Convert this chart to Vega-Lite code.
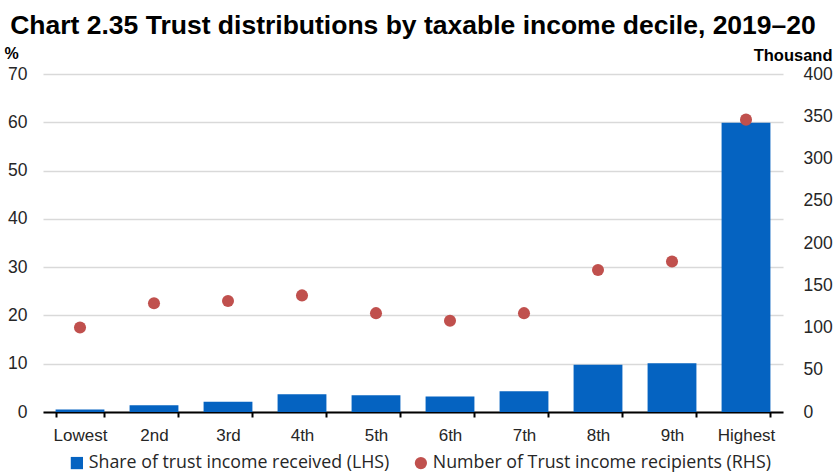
{
  "$schema": "https://vega.github.io/schema/vega-lite/v6.json",
  "width": 740,
  "height": 338,
  "autosize": {"type": "none"},
  "padding": {"left": 43, "top": 74, "right": 52, "bottom": 62},
  "background": "white",
  "title": {
    "text": "Chart 2.35 Trust distributions by taxable income decile, 2019–20",
    "font": "Liberation Sans",
    "fontSize": 26.5,
    "fontWeight": "bold",
    "color": "black",
    "anchor": "middle",
    "offset": 6
  },
  "data": {
    "values": [
      {"decile": "Lowest", "series": "Share of trust income received (LHS)", "value": 0.5},
      {"decile": "2nd", "series": "Share of trust income received (LHS)", "value": 1.4},
      {"decile": "3rd", "series": "Share of trust income received (LHS)", "value": 2.1},
      {"decile": "4th", "series": "Share of trust income received (LHS)", "value": 3.7},
      {"decile": "5th", "series": "Share of trust income received (LHS)", "value": 3.45},
      {"decile": "6th", "series": "Share of trust income received (LHS)", "value": 3.2},
      {"decile": "7th", "series": "Share of trust income received (LHS)", "value": 4.3},
      {"decile": "8th", "series": "Share of trust income received (LHS)", "value": 9.8},
      {"decile": "9th", "series": "Share of trust income received (LHS)", "value": 10.1},
      {"decile": "Highest", "series": "Share of trust income received (LHS)", "value": 59.9},
      {"decile": "Lowest", "series": "Number of Trust income recipients (RHS)", "value": 100},
      {"decile": "2nd", "series": "Number of Trust income recipients (RHS)", "value": 128.6},
      {"decile": "3rd", "series": "Number of Trust income recipients (RHS)", "value": 131.4},
      {"decile": "4th", "series": "Number of Trust income recipients (RHS)", "value": 138},
      {"decile": "5th", "series": "Number of Trust income recipients (RHS)", "value": 117},
      {"decile": "6th", "series": "Number of Trust income recipients (RHS)", "value": 108},
      {"decile": "7th", "series": "Number of Trust income recipients (RHS)", "value": 117},
      {"decile": "8th", "series": "Number of Trust income recipients (RHS)", "value": 168},
      {"decile": "9th", "series": "Number of Trust income recipients (RHS)", "value": 178},
      {"decile": "Highest", "series": "Number of Trust income recipients (RHS)", "value": 346}
    ]
  },
  "encoding": {
    "x": {
      "field": "decile",
      "type": "nominal",
      "sort": ["Lowest", "2nd", "3rd", "4th", "5th", "6th", "7th", "8th", "9th", "Highest"],
      "scale": {"paddingInner": 0.34, "paddingOuter": 0.17},
      "axis": {
        "title": null,
        "labelAngle": 0,
        "labelFont": "Liberation Sans",
        "labelFontSize": 17,
        "labelColor": "#262626",
        "labelPadding": 10,
        "domainColor": "black",
        "domainWidth": 2,
        "ticks": true,
        "tickBand": "extent",
        "tickColor": "black",
        "tickWidth": 2,
        "tickSize": 5,
        "grid": false
      }
    }
  },
  "layer": [
    {
      "transform": [{"filter": "datum.series === 'Share of trust income received (LHS)'"}],
      "mark": {"type": "bar", "color": "#0563C1"},
      "encoding": {
        "y": {
          "field": "value",
          "type": "quantitative",
          "scale": {"domain": [0, 70], "nice": false},
          "axis": {
            "title": "%",
            "titleAngle": 0,
            "titleFont": "Liberation Sans",
            "titleFontSize": 16,
            "titleFontWeight": "bold",
            "titleColor": "black",
            "titleAlign": "left",
            "titleBaseline": "alphabetic",
            "titleX": -39,
            "titleY": -16,
            "values": [0, 10, 20, 30, 40, 50, 60, 70],
            "labelFont": "Liberation Sans",
            "labelFontSize": 17.5,
            "labelColor": "#262626",
            "labelPadding": 16,
            "domain": false,
            "ticks": false,
            "grid": true,
            "gridColor": "#d9d9d9",
            "gridWidth": 1.5
          }
        },
        "color": {
          "field": "series",
          "type": "nominal",
          "scale": {
            "domain": ["Share of trust income received (LHS)", "Number of Trust income recipients (RHS)"],
            "range": ["#0563C1", "#C0504D"]
          },
          "legend": {
            "title": null,
            "orient": "none",
            "legendX": 25,
            "legendY": 380,
            "direction": "horizontal",
            "labelFont": "Open Sans",
            "labelFontSize": 17.8,
            "labelColor": "#262626",
            "symbolSize": 150,
            "columnPadding": 22,
            "labelOffset": 3,
            "labelLimit": 400
          }
        }
      }
    },
    {
      "transform": [{"filter": "datum.series === 'Number of Trust income recipients (RHS)'"}],
      "mark": {"type": "point", "filled": true, "opacity": 1, "size": 145},
      "encoding": {
        "y": {
          "field": "value",
          "type": "quantitative",
          "scale": {"domain": [0, 400], "nice": false},
          "axis": {
            "orient": "right",
            "title": "Thousand",
            "titleAngle": 0,
            "titleFont": "Liberation Sans",
            "titleFontSize": 16.5,
            "titleFontWeight": "bold",
            "titleColor": "black",
            "titleAlign": "right",
            "titleBaseline": "alphabetic",
            "titleX": 49,
            "titleY": -14,
            "values": [0, 50, 100, 150, 200, 250, 300, 350, 400],
            "labelFont": "Liberation Sans",
            "labelFontSize": 17.5,
            "labelColor": "#262626",
            "labelPadding": 20,
            "domain": false,
            "ticks": false,
            "grid": false
          }
        },
        "color": {"field": "series", "type": "nominal"},
        "shape": {
          "field": "series",
          "type": "nominal",
          "scale": {
            "domain": ["Share of trust income received (LHS)", "Number of Trust income recipients (RHS)"],
            "range": ["square", "circle"]
          }
        }
      }
    }
  ],
  "resolve": {"scale": {"y": "independent"}},
  "config": {"view": {"stroke": null}}
}
